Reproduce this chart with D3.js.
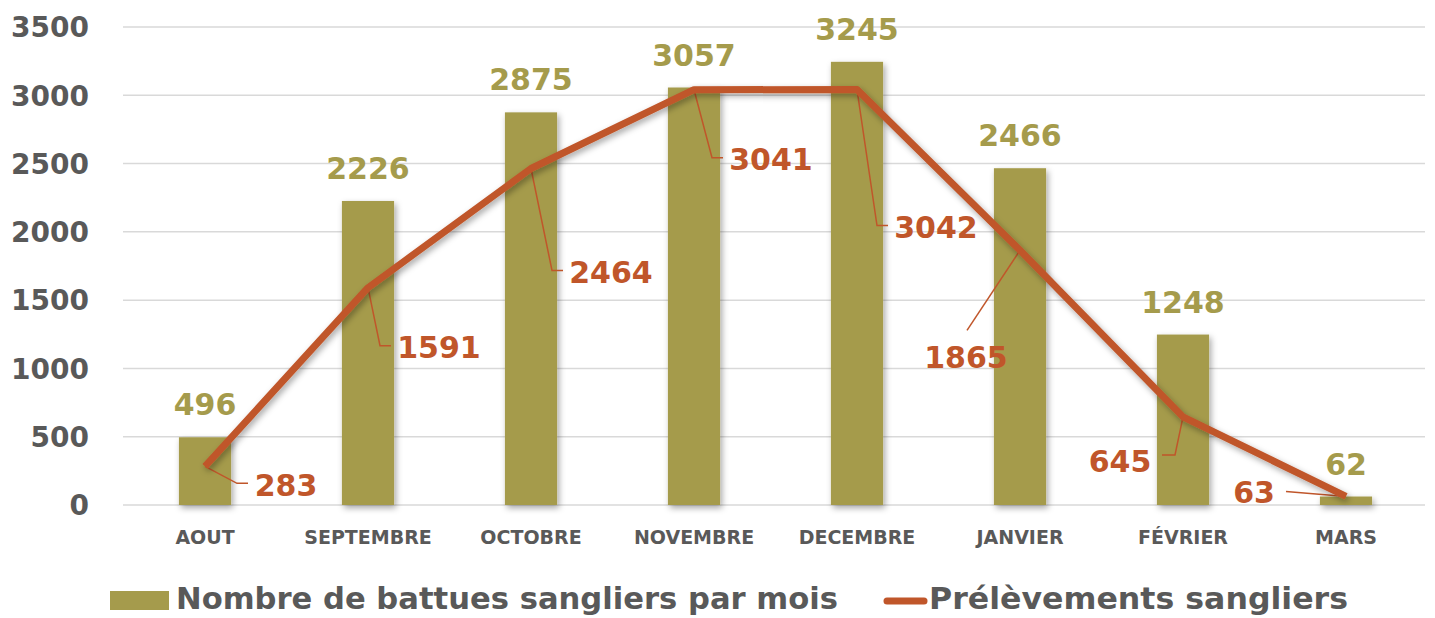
<!DOCTYPE html>
<html><head><meta charset="utf-8">
<script src="https://cdn.jsdelivr.net/npm/d3@7"></script>
<style>body{margin:0;background:#fff}svg{display:block}text{font-family:"DejaVu Sans",sans-serif;font-weight:bold}</style>
</head><body><svg id="c" width="1435" height="618"></svg>
<script>
const categories=["AOUT","SEPTEMBRE","OCTOBRE","NOVEMBRE","DECEMBRE","JANVIER","FÉVRIER","MARS"];
const battues=[496,2226,2875,3057,3245,2466,1248,62];
const prelevements=[283,1591,2464,3041,3042,1865,645,63];
const yTicks=[0,500,1000,1500,2000,2500,3000,3500];
const seriesNames=["Nombre de battues sangliers par mois","Prélèvements sangliers"];
// label offsets (px) for line data labels: [dx, dy] text centre relative to point, leader style
const lineLabelOffsets=[[81,19,"r"],[71,60,"r"],[80,104,"r"],[77,70,"r"],[79,138,"r"],[-54,107,"d"],[-63,45,"l"],[-92,-4,"h"]];

const colBar="#A59B4C", colLine="#C0562A", grey="#595959";
const svg=d3.select("#c");
const defs=svg.append("defs");
const f=defs.append("filter").attr("id","sh").attr("x","-20%").attr("y","-20%").attr("width","140%").attr("height","140%");
f.append("feDropShadow").attr("dx",2).attr("dy",3).attr("stdDeviation",3).attr("flood-color","#000").attr("flood-opacity",0.35);

const x=d3.scaleBand().domain(categories).range([123.5,1427.5]).paddingInner(0.68).paddingOuter(0.34);
const y=d3.scaleLinear().domain([0,3500]).range([505,27]);

// gridlines
svg.append("g").selectAll("line").data(yTicks).join("line")
 .attr("x1",123).attr("x2",1425).attr("y1",d=>y(d)).attr("y2",d=>y(d))
 .attr("stroke","#d9d9d9").attr("stroke-width",1.5);

// y axis
const ya=svg.append("g").attr("transform","translate(89,0)").call(d3.axisLeft(y).tickValues(yTicks).tickFormat(d3.format("d")).tickSize(0).tickPadding(0));
ya.select(".domain").remove();
ya.selectAll("text").attr("font-size",28).attr("fill",grey).attr("font-family","DejaVu Sans").attr("font-weight","bold").attr("dy","0.35em");

// x axis
const xa=svg.append("g").attr("transform","translate(0,537)").call(d3.axisBottom(x).tickSize(0).tickPadding(0));
xa.select(".domain").remove();
xa.selectAll("text").attr("font-size",19).attr("fill",grey).attr("font-family","DejaVu Sans").attr("font-weight","bold").attr("dy","0.35em");

// bars
svg.append("g").attr("filter","url(#sh)").selectAll("rect").data(battues).join("rect")
 .attr("x",(d,i)=>x(categories[i])).attr("width",x.bandwidth())
 .attr("y",d=>y(d)).attr("height",d=>y(0)-y(d)).attr("fill",colBar);

// bar labels
svg.append("g").selectAll("text").data(battues).join("text")
 .attr("x",(d,i)=>x(categories[i])+x.bandwidth()/2).attr("y",d=>y(d)-22)
 .attr("text-anchor","middle").attr("font-size",30).attr("fill",colBar).text(d=>d);

// line
const cx=i=>x(categories[i])+x.bandwidth()/2;
const line=d3.line().x((d,i)=>cx(i)).y(d=>y(d));
// leader lines
const lg=svg.append("g");
prelevements.forEach((v,i)=>{
  const px=cx(i), py=y(v); const [dx,dy,t]=lineLabelOffsets[i];
  const tx=px+dx, ty=py+dy;
  let pts;
  if(t==="r"){ const hx=tx-48+ (String(v).length<4?10:0); pts=[[px,py],[hx-11,ty-2],[hx,ty-2]]; }
  else if(t==="l"){ pts=[[px,py],[px-8,ty-7],[px-21,ty-7]]; }
  else if(t==="d"){ pts=[[px,py],[tx+1,ty-27]]; }
  else { pts=[[px,py],[tx+32,ty-1]]; }
  lg.append("path").attr("d",d3.line()(pts)).attr("fill","none").attr("stroke",colLine).attr("stroke-width",1.5);
});
svg.append("path").datum(prelevements).attr("d",line).attr("fill","none")
 .attr("stroke",colLine).attr("stroke-width",7).attr("stroke-linejoin","round").attr("filter","url(#sh)");

svg.append("g").selectAll("text").data(prelevements).join("text")
 .attr("x",(d,i)=>cx(i)+lineLabelOffsets[i][0]).attr("y",(d,i)=>y(d)+lineLabelOffsets[i][1])
 .attr("dy","0.35em").attr("text-anchor","middle").attr("font-size",30).attr("fill",colLine).text(d=>d);

// legend
const lgd=svg.append("g");
lgd.append("rect").attr("x",110).attr("y",591).attr("width",59).attr("height",19).attr("fill",colBar);
lgd.append("text").attr("x",176).attr("y",609).attr("font-size",30).attr("fill",grey)
 .attr("textLength",662).attr("lengthAdjust","spacingAndGlyphs").text(seriesNames[0]);
lgd.append("line").attr("x1",887).attr("x2",924).attr("y1",601).attr("y2",601).attr("stroke",colLine).attr("stroke-width",7).attr("stroke-linecap","round");
lgd.append("text").attr("x",929).attr("y",609).attr("font-size",30).attr("fill",grey)
 .attr("textLength",419).attr("lengthAdjust","spacingAndGlyphs").text(seriesNames[1]);
</script></body></html>
